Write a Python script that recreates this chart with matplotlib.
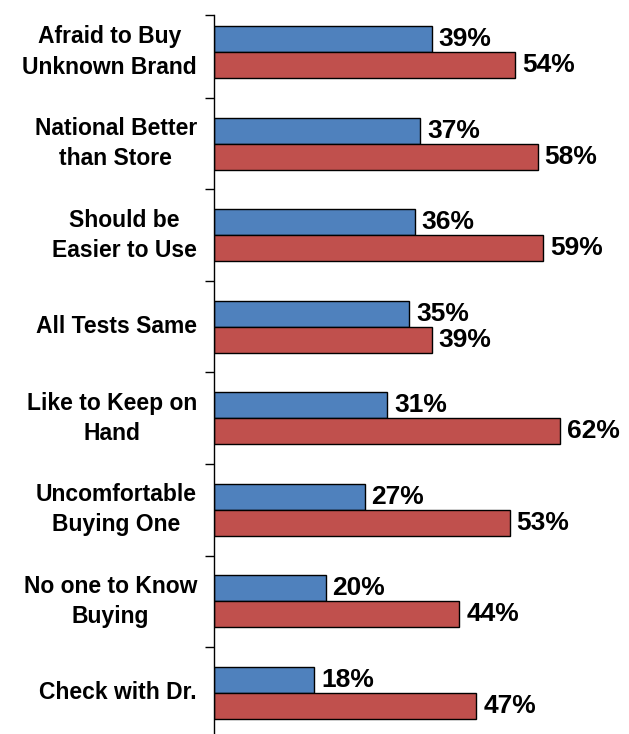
import matplotlib.pyplot as plt
import numpy as np

plt.rcParams['font.family'] = ['Liberation Sans', 'DejaVu Sans']

# categories top to bottom
labels = ["Afraid to Buy\nUnknown Brand", "National Better\nthan Store", "Should be\nEasier to Use",
          "All Tests Same", "Like to Keep on\nHand", "Uncomfortable\nBuying One",
          "No one to Know\nBuying", "Check with Dr."]
blue_vals = [39, 37, 36, 35, 31, 27, 20, 18]
red_vals = [54, 58, 59, 39, 62, 53, 44, 47]

fig = plt.figure(figsize=(6.29, 7.34), dpi=100)
ax = fig.add_axes([214 / 629, 0, 1 - 214 / 629, 1 - 15 / 734])

y = np.arange(len(labels))
h = 0.284
ax.barh(y - h / 2, blue_vals, height=h, color='#4F81BD', edgecolor='black', linewidth=1)
ax.barh(y + h / 2, red_vals, height=h, color='#C0504D', edgecolor='black', linewidth=1)

for yy, v in zip(y, blue_vals):
    ax.text(v + 1.25, yy - h / 2, f"{v}%", va='center', ha='left', fontsize=19, fontweight='bold')
for yy, v in zip(y, red_vals):
    ax.text(v + 1.25, yy + h / 2, f"{v}%", va='center', ha='left', fontsize=19, fontweight='bold')

ytop, ybot = -0.404, 7.448
ax.set_xlim(0, 74.4)
ax.set_ylim(ybot, ytop)

# boundary ticks on the spine
ax.set_yticks([ytop] + list(np.arange(0.5, 7, 1.0)))
ax.set_yticklabels([])
ax.tick_params(axis='y', direction='out', length=6.5, width=1)

for yy, lab in zip(y, labels):
    ax.text(-3.05, yy, lab, ha='right', va='center', multialignment='center',
            fontsize=16.5, fontweight='bold', linespacing=1.4)

ax.set_xticks([])
for s in ['top', 'right', 'bottom']:
    ax.spines[s].set_visible(False)
ax.spines['left'].set_linewidth(1)

fig.savefig('out.png', dpi=100)
